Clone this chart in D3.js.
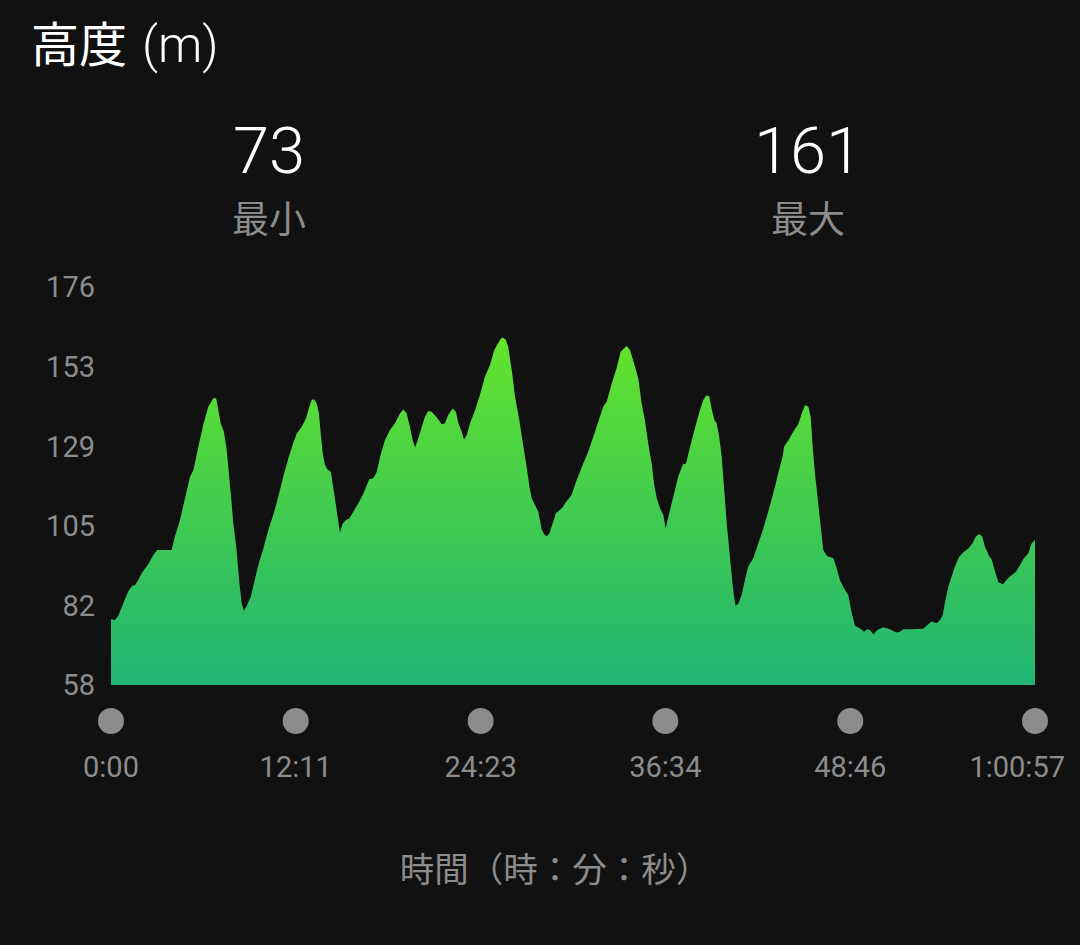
<!DOCTYPE html>
<html><head><meta charset="utf-8">
<script src="https://cdn.jsdelivr.net/npm/d3@7"></script>
<style>
html,body{margin:0;padding:0;background:#111111;}
svg{display:block;}
</style></head>
<body>
<script>
// Elapsed time (seconds)
const times = [0,16,29,49,68,84,95,108,122,148,167,183,240,253,273,293,313,326,346,365,385,405,416,425,434,447,458,464,474,484,497,507,517,526,539,553,566,583,603,623,642,662,682,702,719,735,755,772,785,794,803,814,823,830,838,847,856,870,880,893,906,917,933,943,959,979,999,1022,1038,1052,1065,1084,1104,1124,1144,1157,1170,1183,1194,1204,1216,1230,1243,1256,1269,1289,1309,1322,1335,1352,1365,1375,1388,1397,1408,1421,1441,1460,1480,1500,1517,1533,1542,1550,1562,1572,1586,1599,1616,1632,1645,1656,1665,1678,1691,1705,1714,1724,1735,1748,1761,1777,1790,1797,1823,1843,1869,1889,1909,1929,1948,1962,1982,2001,2017,2030,2041,2054,2070,2087,2100,2113,2127,2140,2150,2160,2173,2186,2195,2206,2219,2232,2245,2263,2276,2292,2311,2331,2344,2358,2368,2377,2388,2397,2407,2417,2426,2437,2447,2457,2466,2472,2483,2496,2509,2522,2542,2562,2582,2601,2621,2641,2658,2664,2681,2700,2720,2734,2747,2760,2769,2777,2786,2799,2809,2819,2833,2846,2859,2872,2885,2901,2918,2932,2945,2964,2980,2993,3004,3017,3033,3057,3083,3107,3123,3136,3169,3215,3231,3248,3268,3281,3292,3301,3314,3327,3340,3357,3373,3393,3410,3423,3437,3448,3459,3475,3486,3499,3512,3531,3547,3565,3582,3598,3613,3630,3644,3657];
// Altitude (m)
const altitudes = [77.5,77.3,78.5,82.3,85.7,87.4,87.6,89.1,91.2,93.9,96.5,98.0,98.0,102.0,106.9,113.4,119.8,121.7,128.7,135.1,140.5,143.0,143.0,139.5,135.6,133.1,127.7,122.7,114.9,106.0,98.0,89.1,82.3,80.0,81.7,84.2,88.2,93.6,98.5,104.0,108.4,113.8,119.8,125.2,129.2,132.6,134.6,137.1,140.5,142.5,142.7,141.5,138.6,132.6,126.7,123.2,122.0,121.2,116.4,109.9,103.2,105.9,107.1,107.4,109.4,111.9,114.8,119.0,119.3,121.2,125.7,130.6,133.6,135.6,138.6,139.7,138.6,134.6,130.6,128.5,131.1,134.6,137.6,139.2,139.0,137.4,135.3,135.6,138.1,140.0,139.0,135.6,133.1,130.8,132.1,135.6,139.5,144.0,149.4,152.9,157.3,159.5,160.6,161.0,160.4,158.3,151.4,143.5,136.6,128.7,122.7,116.8,113.4,111.4,109.4,104.0,102.8,102.0,103.0,105.9,108.9,109.9,110.9,111.9,114.3,118.8,123.7,127.2,131.6,136.1,140.5,142.0,147.5,151.9,156.8,157.8,158.5,157.3,153.4,148.9,141.5,136.6,129.2,123.7,117.3,113.4,110.4,108.4,104.5,107.9,111.9,115.8,119.8,123.4,123.7,128.7,134.1,139.5,142.5,143.9,143.5,140.0,136.6,135.6,131.6,125.7,116.8,105.9,98.0,90.1,84.2,81.5,82.2,84.7,89.1,93.1,95.6,100.0,104.5,109.4,114.8,120.8,125.7,128.7,130.6,133.1,135.3,138.6,141.0,140.5,137.6,128.7,120.8,111.9,104.9,98.0,96.3,95.9,95.6,92.6,89.1,86.7,84.7,79.3,75.5,74.8,73.8,74.5,74.3,73.0,74.3,75.1,74.5,73.6,73.8,74.5,74.5,74.7,75.8,76.8,76.3,77.3,78.8,82.7,87.1,90.1,93.1,96.0,97.3,98.5,100.0,102.0,102.8,102.0,99.0,96.3,95.1,91.6,88.5,87.9,89.4,90.6,91.6,93.6,95.6,97.0,100.0,101.0];
const yTickValues = [58,81.6,105.2,128.8,152.4,176];
const yTickLabels = ["58","82","105","129","153","176"];
const xTickValues = [0,731,1463,2194,2926,3657];
const xTickLabels = ["0:00","12:11","24:23","36:34","48:46","1:00:57"];
const statValues = ["73","161"];
const statLabels = ["最小","最大"];
const titleText = "高度";
const unitText = "(m)";
const xTitle = "時間（時：分：秒）";

const W = 1080, H = 945;
const svg = d3.select("body").append("svg").attr("width", W).attr("height", H);
svg.append("rect").attr("width", W).attr("height", H).attr("fill", "#111111");

const cjk = "'Noto Sans CJK JP','Noto Sans CJK SC',sans-serif";
const latin = "Roboto,'Noto Sans',sans-serif";

// Title
const t = svg.append("text").attr("x", 31).attr("y", 62).attr("fill", "#ffffff").attr("font-size", 48);
t.append("tspan").attr("font-family", cjk).text(titleText);
t.append("tspan").attr("font-family", latin).attr("font-weight", 300).attr("font-size", 50).attr("dx", 15).text(unitText);

// Stats
const statX = [269, 808];
statValues.forEach((v, i) => {
  svg.append("text").attr("x", statX[i]).attr("y", 173).attr("text-anchor", "middle")
    .attr("fill", "#ffffff").attr("font-family", latin).attr("font-weight", 300)
    .attr("font-size", 65).text(v);
  svg.append("text").attr("x", statX[i]).attr("y", 233).attr("text-anchor", "middle")
    .attr("fill", "#8c8c8c").attr("font-family", cjk)
    .attr("font-size", 37).text(statLabels[i]);
});

// Scales
const x = d3.scaleLinear().domain([0, 3657]).range([111, 1035]);
const y = d3.scaleLinear().domain([58, 176]).range([685, 287]);

const data = times.map((tt, i) => ({t: tt, a: altitudes[i]}));

const defs = svg.append("defs");
const grad = defs.append("linearGradient").attr("id", "g").attr("gradientUnits", "userSpaceOnUse")
  .attr("x1", 0).attr("x2", 0).attr("y1", y(161)).attr("y2", y(58));
grad.append("stop").attr("offset", "0%").attr("stop-color", "#63e32b");
grad.append("stop").attr("offset", "100%").attr("stop-color", "#20b474");

const area = d3.area().x(d => x(d.t)).y0(y(58)).y1(d => y(d.a)).curve(d3.curveLinear);
svg.append("path").datum(data).attr("d", area).attr("fill", "url(#g)");

// Y axis labels
yTickValues.forEach((v, i) => {
  svg.append("text").attr("x", 95).attr("y", y(v)).attr("dy", "0.36em")
    .attr("text-anchor", "end").attr("fill", "#8c8c8c").attr("font-family", latin)
    .attr("font-size", 29).text(yTickLabels[i]);
});

// X ticks: dots and labels
xTickValues.forEach((v, i) => {
  const last = i === xTickValues.length - 1;
  svg.append("circle").attr("cx", x(v)).attr("cy", 721).attr("r", 13).attr("fill", "#8c8c8c");
  svg.append("text").attr("x", last ? 1065 : x(v)).attr("y", 777)
    .attr("text-anchor", last ? "end" : "middle")
    .attr("fill", "#8c8c8c").attr("font-family", latin).attr("font-size", 29).text(xTickLabels[i]);
});

svg.append("text").attr("x", 555).attr("y", 882).attr("text-anchor", "middle")
  .attr("fill", "#8c8c8c").attr("font-family", cjk).attr("font-size", 34.5).text(xTitle);
</script>
</body></html>
